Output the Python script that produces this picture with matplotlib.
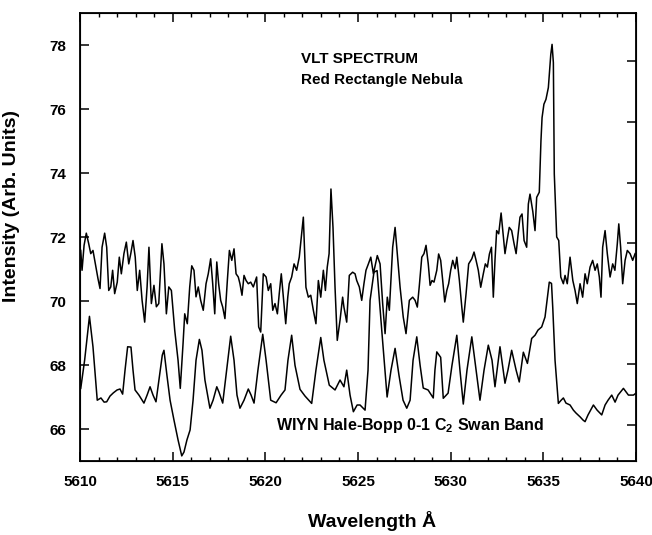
import numpy as np
import matplotlib
matplotlib.use('Agg')
import matplotlib.pyplot as plt

plt.rcParams['font.family'] = ['Liberation Sans', 'DejaVu Sans']
plt.rcParams['font.weight'] = 'bold'
plt.rcParams['mathtext.fontset'] = 'custom'
plt.rcParams['mathtext.rm'] = 'Liberation Sans:bold'
plt.rcParams['mathtext.bf'] = 'Liberation Sans:bold'

# VLT spectrum, Red Rectangle nebula
vlt_wl = [5610.04, 5610.11, 5610.22, 5610.34, 5610.47, 5610.58, 5610.70, 5610.83, 5610.97, 5611.08,
          5611.19, 5611.33, 5611.44, 5611.55, 5611.66, 5611.76, 5611.87, 5612.01, 5612.12, 5612.23,
          5612.37, 5612.50, 5612.63, 5612.74, 5612.86, 5612.98, 5613.09, 5613.22, 5613.35, 5613.49,
          5613.62, 5613.72, 5613.85, 5613.99, 5614.12, 5614.25, 5614.42, 5614.53, 5614.66, 5614.79,
          5614.93, 5615.11, 5615.29, 5615.41, 5615.56, 5615.65, 5615.79, 5615.92, 5616.03, 5616.15,
          5616.26, 5616.38, 5616.51, 5616.65, 5616.80, 5616.92, 5617.05, 5617.16, 5617.27, 5617.38,
          5617.48, 5617.59, 5617.70, 5617.82, 5617.95, 5618.06, 5618.19, 5618.31, 5618.42, 5618.54,
          5618.63, 5618.74, 5618.85, 5618.96, 5619.08, 5619.21, 5619.35, 5619.53, 5619.64, 5619.75,
          5619.89, 5620.04, 5620.16, 5620.29, 5620.40, 5620.52, 5620.65, 5620.75, 5620.86, 5620.97,
          5621.10, 5621.21, 5621.29, 5621.42, 5621.55, 5621.69, 5621.83, 5621.92, 5622.05, 5622.19,
          5622.32, 5622.45, 5622.59, 5622.73, 5622.86, 5622.99, 5623.13, 5623.24, 5623.34, 5623.44,
          5623.54, 5623.65, 5623.76, 5623.88, 5624.03, 5624.17, 5624.24, 5624.39, 5624.53, 5624.71,
          5624.84, 5624.93, 5625.07, 5625.20, 5625.32, 5625.43, 5625.56, 5625.69, 5625.83, 5626.04,
          5626.19, 5626.33, 5626.46, 5626.58, 5626.69, 5626.87, 5627.00, 5627.12, 5627.27, 5627.44,
          5627.59, 5627.77, 5627.95, 5628.08, 5628.20, 5628.31, 5628.44, 5628.56, 5628.67, 5628.79,
          5628.89, 5628.99, 5629.10, 5629.25, 5629.35, 5629.46, 5629.57, 5629.68, 5629.79, 5629.89,
          5630.00, 5630.11, 5630.24, 5630.33, 5630.47, 5630.60, 5630.68, 5630.83, 5630.97, 5631.14,
          5631.26, 5631.37, 5631.49, 5631.62, 5631.76, 5631.87, 5631.98, 5632.09, 5632.20, 5632.30,
          5632.39, 5632.48, 5632.59, 5632.72, 5632.93, 5633.04, 5633.16, 5633.29, 5633.42, 5633.53,
          5633.64, 5633.74, 5633.85, 5633.96, 5634.10, 5634.19, 5634.28, 5634.43, 5634.55, 5634.64,
          5634.78, 5634.87, 5634.93, 5635.03, 5635.14, 5635.27, 5635.40, 5635.47, 5635.54, 5635.59,
          5635.72, 5635.83, 5635.94, 5636.08, 5636.17, 5636.29, 5636.44, 5636.59, 5636.71, 5636.83,
          5636.98, 5637.12, 5637.25, 5637.37, 5637.52, 5637.66, 5637.79, 5637.91, 5638.02, 5638.11,
          5638.20, 5638.33, 5638.45, 5638.60, 5638.74, 5638.86, 5638.99, 5639.07, 5639.17, 5639.28,
          5639.41, 5639.53, 5639.68, 5639.82, 5639.95]
vlt_int = [71.58, 70.96, 71.74, 72.12, 71.79, 71.48, 71.58, 71.16, 70.70, 70.39,
           71.68, 72.12, 71.68, 70.33, 70.44, 70.96, 70.23, 70.59, 71.37, 70.85,
           71.48, 71.84, 71.16, 71.48, 71.89, 71.37, 70.33, 70.96, 70.02, 69.34,
           70.44, 71.68, 69.92, 70.49, 69.82, 69.92, 71.79, 71.16, 69.60, 70.44,
           70.33, 69.09, 68.15, 67.27, 68.67, 69.60, 69.29, 70.44, 71.10, 70.96,
           70.13, 70.44, 70.02, 69.71, 70.54, 70.85, 71.32, 70.54, 69.60, 71.22,
           70.54, 70.02, 69.81, 69.45, 70.64, 71.58, 71.27, 71.63, 70.85, 70.75,
           70.54, 70.18, 70.80, 70.64, 70.54, 70.59, 70.44, 70.75, 69.19, 69.03,
           70.85, 70.75, 70.33, 70.54, 69.71, 69.92, 69.60, 70.23, 70.85, 70.12,
           69.29, 70.12, 70.54, 70.75, 71.16, 70.96, 71.37, 71.89, 72.62, 70.43,
           70.12, 70.18, 69.71, 69.29, 70.64, 70.12, 70.96, 70.33, 71.06, 71.48,
           73.50, 72.30, 70.43, 68.77, 69.40, 70.12, 69.81, 69.34, 70.80, 70.90,
           70.85, 70.64, 70.44, 70.02, 70.54, 70.96, 71.16, 71.37, 70.85, 71.42,
           71.16, 69.92, 68.98, 70.12, 69.71, 71.68, 72.30, 71.48, 70.43, 69.50,
           68.98, 70.02, 70.12, 70.02, 69.81, 70.49, 71.37, 71.48, 71.74, 71.16,
           70.49, 70.64, 70.59, 70.96, 71.47, 71.27, 70.64, 69.97, 70.33, 70.54,
           70.96, 71.27, 71.01, 71.37, 70.64, 69.81, 69.34, 70.23, 71.16, 71.32,
           71.53, 71.27, 70.96, 70.43, 70.85, 71.16, 71.06, 71.47, 71.68, 70.12,
           71.27, 72.20, 72.10, 72.75, 71.48, 71.89, 72.30, 72.20, 71.79, 71.48,
           72.10, 72.62, 72.72, 71.89, 71.68, 73.03, 73.34, 72.80, 72.20, 73.24,
           73.40, 75.00, 75.73, 76.15, 76.30, 76.67, 77.70, 78.02, 77.45, 73.97,
           72.00, 71.89, 70.75, 70.54, 70.80, 70.54, 71.37, 70.64, 70.33, 69.92,
           70.54, 70.12, 70.85, 70.54, 71.06, 71.27, 70.96, 71.16, 70.75, 70.12,
           71.68, 72.20, 71.48, 70.75, 71.16, 70.96, 71.79, 72.41, 71.68, 70.54,
           71.27, 71.58, 71.48, 71.27, 71.48]

# WIYN Hale-Bopp C2 Swan band spectrum
hb_wl = [5610.04, 5610.25, 5610.51, 5610.70, 5610.93, 5611.13, 5611.30, 5611.44, 5611.62, 5611.80,
         5612.00, 5612.16, 5612.30, 5612.43, 5612.57, 5612.75, 5612.86, 5612.97, 5613.18, 5613.45,
         5613.62, 5613.78, 5613.94, 5614.10, 5614.26, 5614.44, 5614.53, 5614.69, 5614.86, 5615.07,
         5615.29, 5615.49, 5615.61, 5615.77, 5615.94, 5616.10, 5616.26, 5616.44, 5616.58, 5616.74,
         5617.01, 5617.18, 5617.38, 5617.50, 5617.70, 5617.88, 5618.13, 5618.31, 5618.47, 5618.63,
         5618.85, 5619.08, 5619.23, 5619.39, 5619.60, 5619.86, 5620.04, 5620.29, 5620.58, 5620.85,
         5621.06, 5621.22, 5621.42, 5621.60, 5621.87, 5622.14, 5622.50, 5622.73, 5622.99, 5623.16,
         5623.45, 5623.76, 5624.03, 5624.24, 5624.39, 5624.57, 5624.75, 5624.95, 5625.11, 5625.38,
         5625.54, 5625.65, 5625.86, 5626.03, 5626.28, 5626.57, 5626.78, 5627.00, 5627.21, 5627.43,
         5627.63, 5627.81, 5627.97, 5628.17, 5628.35, 5628.52, 5628.78, 5629.06, 5629.15, 5629.25,
         5629.46, 5629.60, 5629.86, 5630.07, 5630.33, 5630.50, 5630.68, 5630.88, 5631.14, 5631.37,
         5631.58, 5631.80, 5632.03, 5632.23, 5632.39, 5632.66, 5632.93, 5633.09, 5633.29, 5633.53,
         5633.70, 5633.92, 5634.14, 5634.37, 5634.55, 5634.71, 5634.91, 5635.09, 5635.20, 5635.32,
         5635.44, 5635.51, 5635.63, 5635.81, 5635.96, 5636.08, 5636.22, 5636.44, 5636.62, 5636.76,
         5636.98, 5637.14, 5637.25, 5637.41, 5637.70, 5637.90, 5638.15, 5638.33, 5638.49, 5638.69,
         5638.87, 5639.03, 5639.32, 5639.59, 5639.86, 5640.00]
hb_int = [67.27, 68.15, 69.52, 68.57, 66.90, 66.97, 66.84, 66.85, 67.03, 67.13,
          67.22, 67.25, 67.09, 67.84, 68.57, 68.56, 67.84, 67.22, 67.06, 66.81,
          67.06, 67.32, 67.06, 66.85, 67.53, 68.31, 68.46, 67.68, 66.90, 66.28,
          65.66, 65.16, 65.28, 65.66, 65.97, 66.90, 68.15, 68.80, 68.46, 67.53,
          66.65, 66.90, 67.32, 67.15, 66.81, 67.68, 68.90, 68.15, 67.06, 66.65,
          66.90, 67.25, 67.06, 66.81, 67.84, 68.96, 68.15, 66.90, 66.82, 67.06,
          67.22, 68.15, 68.93, 67.99, 67.24, 67.03, 66.80, 67.84, 68.86, 68.15,
          67.37, 67.22, 67.53, 67.32, 67.84, 67.06, 66.54, 66.75, 66.75, 66.59,
          67.84, 70.02, 70.90, 70.95, 69.09, 67.00, 67.84, 68.52, 67.68, 66.90,
          66.65, 66.90, 68.15, 68.88, 67.99, 67.28, 67.22, 66.97, 67.84, 68.41,
          68.24, 66.96, 67.12, 67.99, 68.93, 67.84, 66.78, 67.84, 68.88, 67.84,
          66.90, 67.84, 68.62, 68.15, 67.32, 68.57, 67.43, 67.84, 68.46, 67.84,
          67.47, 68.40, 68.05, 68.83, 68.93, 69.09, 69.19, 69.50, 70.02, 70.59,
          70.55, 69.76, 68.15, 66.80, 66.90, 66.97, 66.81, 66.75, 66.59, 66.50,
          66.38, 66.28, 66.23, 66.44, 66.75, 66.59, 66.44, 66.75, 66.90, 67.06,
          66.84, 67.06, 67.27, 67.06, 67.06, 67.12]

fig = plt.figure(figsize=(6.52, 5.35), dpi=100)
ax = fig.add_axes([0.1227, 0.1383, 0.8528, 0.8374])

ax.plot(vlt_wl, vlt_int, color='black', lw=1.1)
ax.plot(hb_wl, hb_int, color='black', lw=1.1)

ax.set_xlim(5610, 5640)
ax.set_ylim(65, 79)
ax.set_xticks(np.arange(5610, 5641, 5))
ax.set_xticks(np.arange(5610, 5641, 1), minor=True)
ax.set_yticks([66, 68, 70, 72, 74, 76, 78])
ax.tick_params(axis='x', which='major', direction='in', length=6.5, width=1.1,
               top=True, labelsize=11, pad=10)
ax.tick_params(axis='x', which='minor', direction='in', length=3, width=1.0, top=True)
ax.tick_params(axis='y', which='major', direction='in', length=6.5, width=1.1,
               right=False, labelsize=11, pad=10)
for lab in ax.get_xticklabels() + ax.get_yticklabels():
    lab.set_fontweight('bold')
for s in ax.spines.values():
    s.set_linewidth(1.3)

# right-hand ticks on their own (unlabelled) scale
ax2 = ax.twinx()
ax2.set_ylim(-0.595, 6.80)
ax2.set_yticks(range(7))
ax2.set_yticklabels([])
ax2.tick_params(axis='y', direction='in', length=6.5, width=1.1)

ax.set_xlabel('Wavelength Å', fontsize=14, fontweight='bold')
ax.xaxis.set_label_coords(0.525, -0.112)
ax.set_ylabel('Intensity (Arb. Units)', fontsize=14, fontweight='bold')
ax.yaxis.set_label_coords(-0.108, 0.57)

ax.text(5621.9, 77.55, 'VLT SPECTRUM', fontsize=11, fontweight='bold', va='center')
ax.text(5621.9, 76.9, 'Red Rectangle Nebula', fontsize=11, fontweight='bold', va='center')
ax.text(5620.6, 66.1, r'WIYN Hale-Bopp 0-1 C$_{\mathbf{2}}$ Swan Band', fontsize=11.5,
        fontweight='bold', va='center')

fig.savefig('out.png', dpi=100)
